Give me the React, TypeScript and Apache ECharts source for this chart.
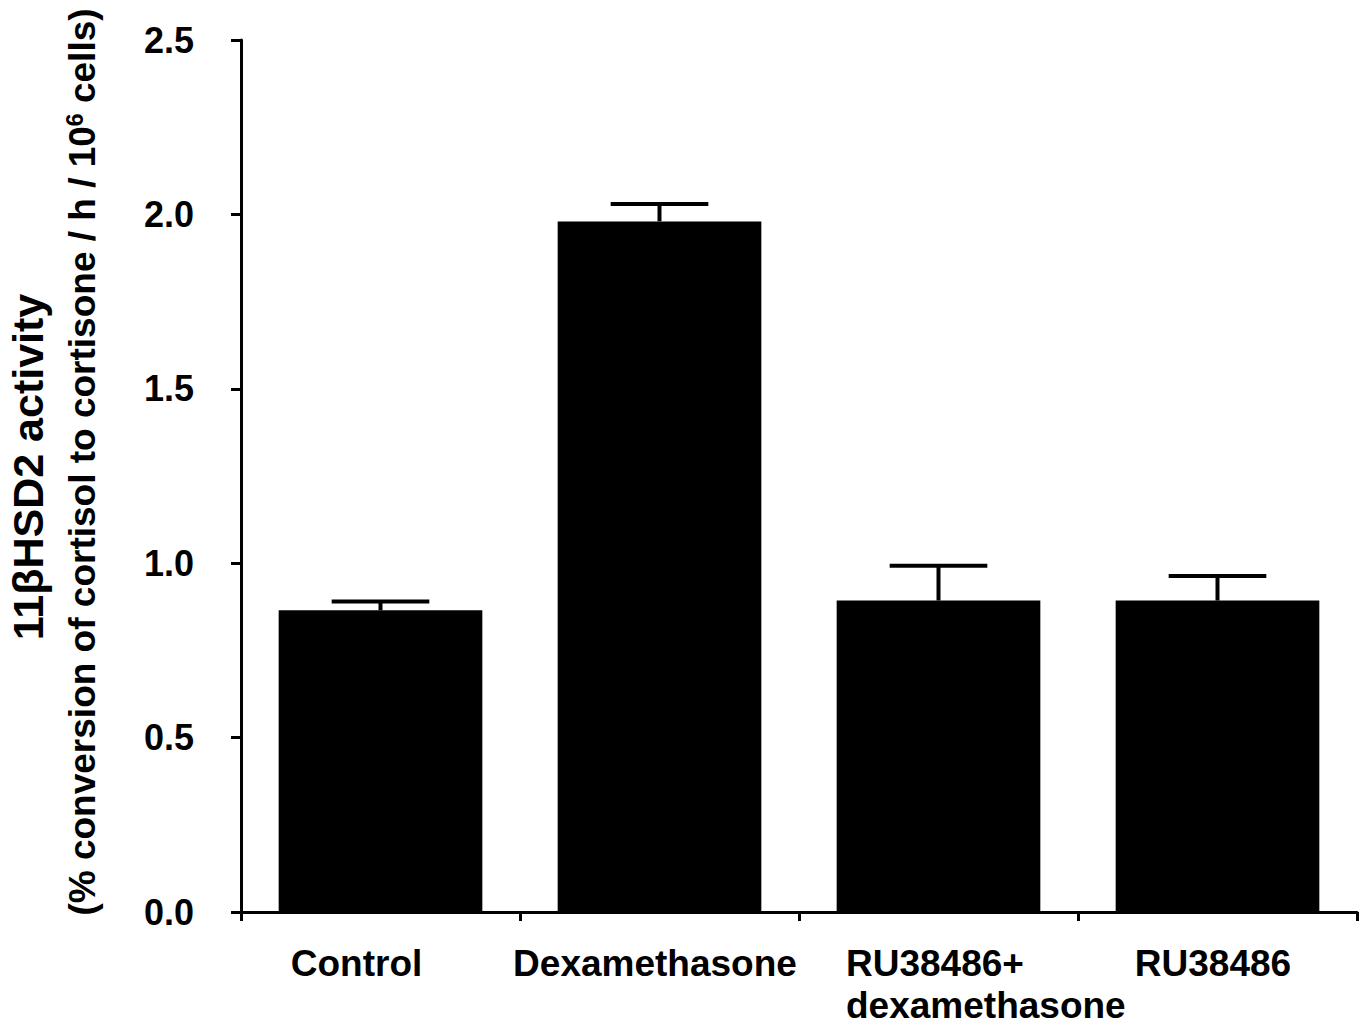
import React, { useEffect, useRef } from "react";
import * as echarts from "echarts";

const categories = ["Control", "Dexamethasone", "RU38486+\ndexamethasone", "RU38486"];
const means = [0.865, 1.98, 0.893, 0.893];
const errors = [0.025, 0.05, 0.1, 0.07];
const yMin = 0;
const yMax = 2.5;
const yInterval = 0.5;
const yTitle1 = "11βHSD2 activity";
const yTitle2a = "(% conversion of cortisol to cortisone / h / 10";
const yTitle2sup = "6";
const yTitle2b = " cells)";

const FONT = '"Liberation Sans", Arial, Helvetica, sans-serif';

export default function App() {
  const ref = useRef<HTMLDivElement>(null);
  useEffect(() => {
    if (!ref.current) return;
    const chart = echarts.init(ref.current, null, { renderer: "svg" });
    const errData = categories.map((c, i) => [i, means[i], errors[i]]);
    const lbl = { fontFamily: FONT, fontWeight: "bold", fontSize: 37, color: "#000" };
    chart.setOption({
      animation: false,
      backgroundColor: "#fff",
      grid: { left: 241, right: 8, top: 40, bottom: 113, containLabel: false },
      graphic: [
        {
          type: "text",
          x: 28,
          y: 467,
          rotation: Math.PI / 2,
          style: {
            text: yTitle1,
            font: `bold 43px ${FONT}`,
            fill: "#000",
            textAlign: "center",
            textVerticalAlign: "middle",
          },
        },
        {
          type: "text",
          x: 82,
          y: 462,
          rotation: Math.PI / 2,
          style: {
            text: `{m|${yTitle2a}}{s|${yTitle2sup}}{m|${yTitle2b}}`,
            fill: "#000",
            textAlign: "center",
            textVerticalAlign: "middle",
            rich: {
              m: { fontFamily: FONT, fontWeight: "bold", fontSize: 37, fill: "#000" },
              s: { fontFamily: FONT, fontWeight: "bold", fontSize: 23, fill: "#000", verticalAlign: "top", padding: [0, 0, 14, 0] },
            },
          },
        },
      ],
      xAxis: {
        type: "category",
        data: categories,
        axisLine: { lineStyle: { color: "#000", width: 3 } },
        axisTick: { show: true, length: 9, lineStyle: { color: "#000", width: 3 }, alignWithLabel: false },
        axisLabel: {
          margin: 30,
          color: "#000",
          fontFamily: FONT,
          fontWeight: "bold",
          fontSize: 37,
          lineHeight: 42,
          interval: 0,
          formatter: (v: string, idx: number) => {
            if (idx === 0) return `{c|${v}}`;
            if (idx === 2) return v.split("\n").map((t) => `{l|${t}}`).join("\n");
            return `{d|${v}}`;
          },
          rich: {
            c: { ...lbl, padding: [0, 48, 0, 0] },
            d: { ...lbl, padding: [0, 9, 0, 0] },
            l: { ...lbl, lineHeight: 42, width: 285, align: "left", padding: [0, 0, 0, 100] },
          },
        },
        splitLine: { show: false },
      },
      yAxis: {
        type: "value",
        min: yMin,
        max: yMax,
        interval: yInterval,
        axisLine: { show: true, lineStyle: { color: "#000", width: 3 } },
        axisTick: { show: true, length: 10, lineStyle: { color: "#000", width: 3 } },
        axisLabel: {
          margin: 47,
          color: "#000",
          fontFamily: FONT,
          fontWeight: "bold",
          fontSize: 36,
          formatter: (v: number) => v.toFixed(1),
        },
        splitLine: { show: false },
      },
      series: [
        {
          type: "bar",
          data: means,
          barWidth: "73%",
          itemStyle: { color: "#000" },
        },
        {
          type: "custom",
          data: errData,
          z: 5,
          renderItem: (params: any, api: any) => {
            const x = api.value(0);
            const m = api.value(1);
            const e = api.value(2);
            const base = api.coord([x, m]);
            const top = api.coord([x, m + e]);
            const cap = api.size([1, 0])[0] * 0.35;
            return {
              type: "group",
              children: [
                {
                  type: "line",
                  shape: { x1: base[0], y1: base[1], x2: top[0], y2: top[1] },
                  style: { stroke: "#000", lineWidth: 4 },
                },
                {
                  type: "line",
                  shape: { x1: top[0] - cap / 2, y1: top[1], x2: top[0] + cap / 2, y2: top[1] },
                  style: { stroke: "#000", lineWidth: 4 },
                },
              ],
            };
          },
        },
      ],
    });
    return () => chart.dispose();
  }, []);
  return <div ref={ref} style={{ width: 1365, height: 1026, position: "absolute", left: 0, top: 0 }} />;
}
